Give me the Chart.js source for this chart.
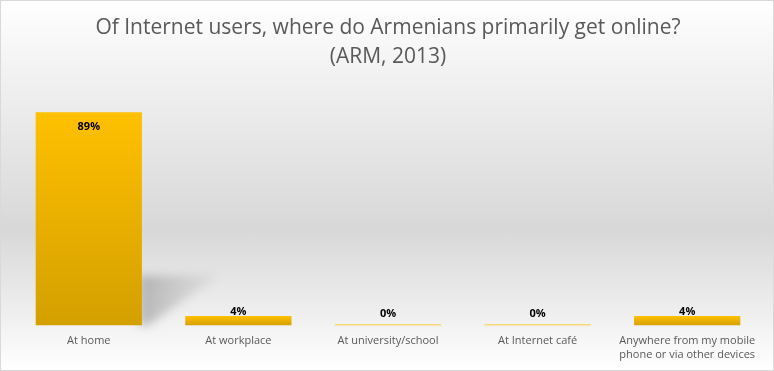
<!DOCTYPE html>
<html><head><meta charset="utf-8">
<script src="https://cdn.jsdelivr.net/npm/chart.js@4"></script>
<style>
html,body{margin:0;padding:0;background:#fff;}
#wrap{position:absolute;left:0;top:0;width:772px;height:369px;border:1px solid #d9d9d9;
background:linear-gradient(to bottom,#ffffff 0%,#f0f0f0 22%,#d8d8d8 62%,#f0f0f0 86%,#ffffff 100%);}
canvas{display:block;}
</style></head><body>
<div id="wrap"><canvas id="c" width="772" height="369"></canvas></div>
<script>
const categories = ["At home","At workplace","At university/school","At Internet café",["Anywhere from my mobile","phone or via other devices"]];
const values = [89, 4, 0, 0, 4];
const valueLabels = ["89%","4%","0%","0%","4%"];
const titleLines = ["Of Internet users, where do Armenians primarily get online?","(ARM, 2013)"];

const shadowPlugin = {
  id:'shadow',
  beforeDatasetsDraw(chart){
    const ctx = chart.ctx;
    const meta = chart.getDatasetMeta(0);
    const b = meta.data[0];
    const h = b.base - b.y;
    const right = b.x + b.width/2;
    const top = b.base - h*0.235;
    ctx.save();
    ctx.filter = 'blur(5px)';
    const g = ctx.createLinearGradient(right,0,right+b.width*0.75,0);
    g.addColorStop(0,'rgba(130,130,130,0.5)');
    g.addColorStop(1,'rgba(160,160,160,0.1)');
    ctx.fillStyle = g;
    ctx.beginPath();
    ctx.moveTo(right-3, b.base);
    ctx.lineTo(right-3, top);
    ctx.lineTo(right+b.width*0.72, top);
    ctx.lineTo(right+6, b.base);
    ctx.closePath();
    ctx.fill();
    ctx.restore();
  }
};
const labelPlugin = {
  id:'vlabels',
  afterDatasetsDraw(chart){
    const ctx = chart.ctx;
    const meta = chart.getDatasetMeta(0);
    ctx.save();
    ctx.font = 'bold 11px "Open Sans", sans-serif';
    ctx.fillStyle = '#000';
    ctx.textAlign = 'center';
    meta.data.forEach((b,i)=>{
      const h = b.base - b.y;
      let y;
      if (h > 30) { ctx.textBaseline='top'; y = b.y + 9; }
      else { ctx.textBaseline='middle'; y = Math.min(b.y - 4, b.base - 12); }
      ctx.fillText(valueLabels[i], b.x, y);
    });
    ctx.restore();
  }
};

new Chart(document.getElementById('c'), {
  type:'bar',
  data:{
    labels: categories,
    datasets:[{
      data: values,
      minBarLength: 1,
      categoryPercentage: 1,
      barPercentage: 0.71,
      backgroundColor(c){
        const ys = c.chart.scales.y;
        if(!ys || c.raw === undefined || !c.chart.chartArea) return '#f0b400';
        const top = ys.getPixelForValue(c.raw);
        const bot = ys.getPixelForValue(0);
        if (!isFinite(top) || !isFinite(bot)) return '#f0b400';
        if (bot - top < 2) return '#ffc000';
        const g = c.chart.ctx.createLinearGradient(0,top,0,bot);
        g.addColorStop(0,'#ffc000');
        g.addColorStop(1,'#d4a000');
        return g;
      },
      borderWidth:0
    }]
  },
  options:{
    responsive:false,
    animation:false,
    layout:{padding:{left:13,right:11,top:0,bottom:8}},
    plugins:{
      legend:{display:false},
      tooltip:{enabled:false},
      title:{display:true,text:titleLines,color:'#595959',
        font:{family:'"Open Sans", sans-serif',size:21,weight:'normal',lineHeight:1.38},
        padding:{top:13,bottom:14}}
    },
    scales:{
      x:{grid:{display:false},border:{display:false},
        ticks:{color:'#595959',font:{family:'"Open Sans", sans-serif',size:11},padding:1,maxRotation:0,autoSkip:false}},
      y:{display:false,min:0,max:100}
    }
  },
  plugins:[shadowPlugin,labelPlugin]
});
</script>
</body></html>
